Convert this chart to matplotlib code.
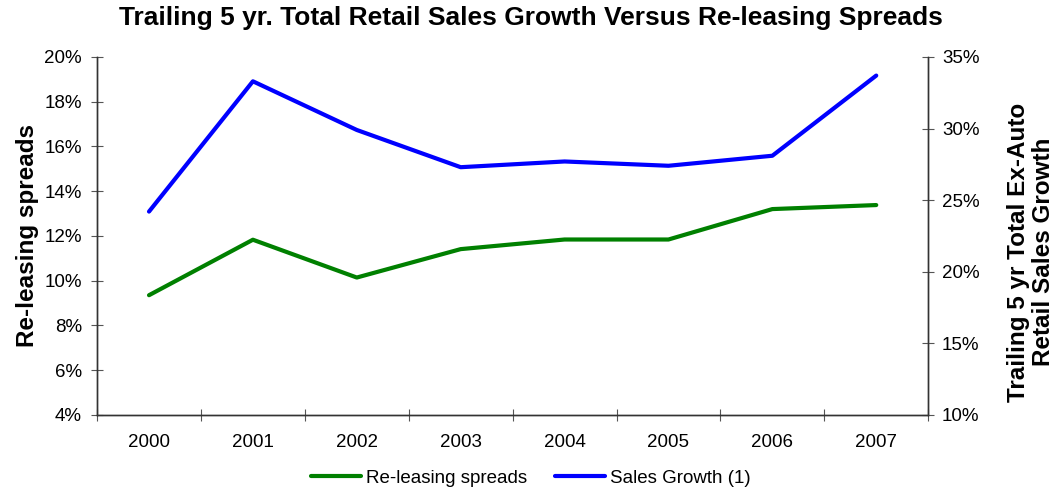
import matplotlib.pyplot as plt
from matplotlib.ticker import FuncFormatter, MultipleLocator

plt.rcParams['font.family'] = ['Liberation Sans', 'DejaVu Sans']

years = ['2000', '2001', '2002', '2003', '2004', '2005', '2006', '2007']
releasing = [9.35, 11.83, 10.14, 11.41, 11.84, 11.84, 13.2, 13.38]
sales_growth = [24.2, 33.3, 29.9, 27.3, 27.7, 27.4, 28.1, 33.7]

fig = plt.figure(figsize=(10.62, 4.91), dpi=100)
ax = fig.add_axes([0.0914, 0.155, 0.7826, 0.729])
ax2 = ax.twinx()

x = range(len(years))
l1, = ax.plot(x, releasing, color='#008000', lw=3, solid_capstyle='round', label='Re-leasing spreads')
l2, = ax2.plot(x, sales_growth, color='#0000FF', lw=3, solid_capstyle='round', label='Sales Growth (1)')

ax.set_xlim(-0.5, len(years) - 0.5)
ax.set_ylim(4, 20)
ax2.set_ylim(10, 35)
ax.yaxis.set_major_locator(MultipleLocator(2))
ax2.yaxis.set_major_locator(MultipleLocator(5))
pct = FuncFormatter(lambda v, p: f'{v:.0f}%')
ax.yaxis.set_major_formatter(pct)
ax2.yaxis.set_major_formatter(pct)

ax.set_xticks([i - 0.5 for i in range(len(years) + 1)])
ax.set_xticklabels([])
ax.set_xticks(list(x), minor=True)
ax.set_xticklabels(years, minor=True)
ax.tick_params(axis='x', which='minor', length=0, labelsize=13.5, pad=14)
ax.tick_params(axis='x', which='major', direction='inout', length=8, color='#555555')
ax.tick_params(axis='y', direction='inout', length=8, labelsize=13.5, color='#555555', pad=7)
ax2.tick_params(axis='y', direction='inout', length=8, labelsize=13.5, color='#555555', pad=6)

for a in (ax, ax2):
    a.spines['top'].set_visible(False)
    for s in ('left', 'right', 'bottom'):
        a.spines[s].set_color('#333333')
        a.spines[s].set_linewidth(1.0)

ax.set_ylabel('Re-leasing spreads', fontsize=17.5, fontweight='bold', labelpad=4)
ax2.set_ylabel('Trailing 5 yr Total Ex-Auto\nRetail Sales Growth', fontsize=17.5,
               fontweight='bold', linespacing=1.1)
ax2.yaxis.set_label_coords(1.095, 0.455)
fig.text(0.5, 0.963, 'Trailing 5 yr. Total Retail Sales Growth Versus Re-leasing Spreads',
         fontsize=19, fontweight='bold', ha='center', va='center')

fig.legend(handles=[l1, l2], loc='center', bbox_to_anchor=(0.5, 1 - 478 / 491), ncol=2,
           frameon=False, fontsize=13.5, handlelength=2.67, handletextpad=0.27,
           columnspacing=1.5, borderpad=0)

fig.savefig('out.png', dpi=100)
